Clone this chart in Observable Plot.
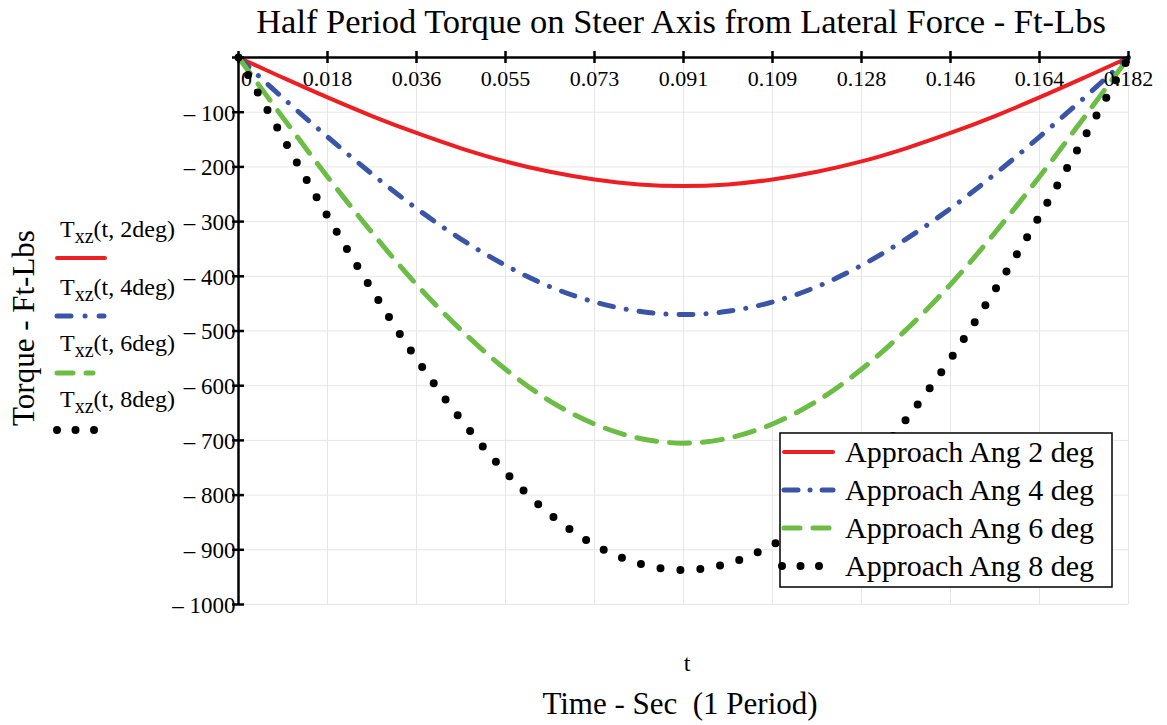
<!DOCTYPE html>
<html>
<head>
<meta charset="utf-8">
<script src="https://cdn.jsdelivr.net/npm/d3@7"></script>
<script src="https://cdn.jsdelivr.net/npm/@observablehq/plot@0.6"></script>
<style>
  body { margin: 0; background: #fff; }
  #wrap { position: relative; width: 1167px; height: 725px; }
  #wrap > svg { position: absolute; left: 0; top: 0; }
</style>
</head>
<body>
<div id="wrap"></div>
<script>
// Time samples over one half period (s)
const tSec = [0, 0.00911, 0.01822, 0.02733, 0.03644, 0.04555, 0.05466, 0.06377, 0.07288, 0.08199,
  0.0911, 0.10021, 0.10932, 0.11843, 0.12754, 0.13665, 0.14576, 0.15487, 0.16398, 0.17309, 0.1822];

// Torque on steer axis (ft-lbs) for each approach angle
const torque2deg = [0, -37, -73, -107, -138, -166, -190, -209, -223, -232, -235, -232, -223, -209, -190, -166, -138, -107, -73, -37, 0];
const torque4deg = [0, -74, -145, -213, -276, -332, -380, -419, -447, -464, -470, -464, -447, -419, -380, -332, -276, -213, -145, -74, 0];
const torque6deg = [0, -110, -218, -320, -415, -498, -570, -628, -670, -696, -705, -696, -670, -628, -570, -498, -415, -320, -218, -110, 0];
const torque8deg = [0, -147, -290, -425, -551, -662, -758, -835, -891, -925, -937, -925, -891, -835, -758, -662, -551, -425, -290, -147, 0];

const seriesNames = ["Approach Ang 2 deg", "Approach Ang 4 deg", "Approach Ang 6 deg", "Approach Ang 8 deg"];
const traceNames = ["2deg", "4deg", "6deg", "8deg"];

// Axis ticks
const xTicks = [0, 0.01822, 0.03644, 0.05466, 0.07288, 0.0911, 0.10932, 0.12754, 0.14576, 0.16398, 0.1822];
const xTickLabels = ["0", "0.018", "0.036", "0.055", "0.073", "0.091", "0.109", "0.128", "0.146", "0.164", "0.182"];
const yTicks = [0, -100, -200, -300, -400, -500, -600, -700, -800, -900, -1000];

const styles = [
  {stroke: "#ee1f23", strokeWidth: 4, dash: null},
  {stroke: "#3a55a6", strokeWidth: 5, dash: "14,13,0.1,13"},
  {stroke: "#6cbd45", strokeWidth: 5, dash: "20,13"},
  {stroke: "#000000", strokeWidth: 8, dash: "0,20"}
];

const allSeries = [torque2deg, torque4deg, torque6deg, torque8deg];
const rows = allSeries.map(vals => tSec.map((t, i) => ({t, v: vals[i]})));

const serif = "Liberation Serif, Times New Roman, serif";

const lineMarks = rows.map((data, k) => Plot.line(data, {
  x: "t", y: "v", curve: "catmull-rom",
  stroke: styles[k].stroke, strokeWidth: styles[k].strokeWidth,
  strokeDasharray: styles[k].dash, strokeLinecap: "round", strokeLinejoin: "round"
}));

const chart = Plot.plot({
  width: 1167,
  height: 725,
  marginLeft: 238,
  marginRight: 39,
  marginTop: 57,
  marginBottom: 121,
  style: {fontFamily: serif, background: "transparent", overflow: "visible"},
  x: {domain: [0, 0.1822], axis: null},
  y: {domain: [-1000, 0], axis: null},
  marks: [
    Plot.gridX(xTicks, {stroke: "#e6e6e6", strokeOpacity: 1, strokeWidth: 1}),
    Plot.gridY(yTicks, {stroke: "#e6e6e6", strokeOpacity: 1, strokeWidth: 1}),
    ...lineMarks,
    // axis lines through the origin
    Plot.ruleX([0], {stroke: "#000", strokeWidth: 2.5}),
    Plot.ruleY([0], {stroke: "#000", strokeWidth: 2.5}),
    // tick marks crossing the axes
    Plot.ruleX(xTicks, {x: d => d, y1: 0, y2: 0, insetTop: -6, insetBottom: -6, stroke: "#000", strokeWidth: 2.5}),
    Plot.ruleY(yTicks, {y: d => d, x1: 0, x2: 0, insetLeft: -6, insetRight: -6, stroke: "#000", strokeWidth: 2.5}),
    // tick labels
    Plot.text(xTicks.slice(1), {x: d => d, y: () => 0, text: (d, i) => xTickLabels[i + 1], dy: 21,
      fontSize: 22, fontFamily: serif, fill: "#000", lineAnchor: "middle"}),
    Plot.text([0], {x: d => d, y: () => 0, text: () => xTickLabels[0], dy: 21, dx: 8,
      fontSize: 22, fontFamily: serif, fill: "#000", lineAnchor: "middle"}),
    Plot.text(yTicks.slice(1), {x: () => 0, y: d => d, text: d => "\u2013 " + Math.abs(d), dx: -3, dy: 1,
      textAnchor: "end", lineAnchor: "middle", fontSize: 23, fontFamily: serif, fill: "#000"})
  ]
});

const wrap = document.getElementById("wrap");
wrap.appendChild(chart);

// Overlay for titles and legends
const ns = "http://www.w3.org/2000/svg";
const overlay = document.createElementNS(ns, "svg");
overlay.setAttribute("width", 1167);
overlay.setAttribute("height", 725);
wrap.appendChild(overlay);

function text(x, y, size, content, anchor, transform) {
  const t = document.createElementNS(ns, "text");
  t.setAttribute("x", x); t.setAttribute("y", y);
  t.setAttribute("font-family", serif);
  t.setAttribute("font-size", size);
  t.setAttribute("fill", "#000");
  if (anchor) t.setAttribute("text-anchor", anchor);
  if (transform) t.setAttribute("transform", transform);
  if (typeof content === "string") t.textContent = content;
  else content(t);
  overlay.appendChild(t);
  return t;
}

function sample(x1, x2, y, st) {
  const l = document.createElementNS(ns, "line");
  l.setAttribute("x1", x1); l.setAttribute("x2", x2);
  l.setAttribute("y1", y); l.setAttribute("y2", y);
  l.setAttribute("stroke", st.stroke);
  l.setAttribute("stroke-width", st.strokeWidth);
  l.setAttribute("stroke-linecap", "round");
  if (st.dash) l.setAttribute("stroke-dasharray", st.dash);
  overlay.appendChild(l);
}

// Titles
text(681, 33, 34.5, "Half Period Torque on Steer Axis from Lateral Force - Ft-Lbs", "middle");
text(687, 671, 24, "t", "middle");
text(680, 714, 31, "Time - Sec\u00a0 (1 Period)", "middle");
text(0, 0, 31, "Torque - Ft-Lbs", "middle", "translate(34,328) rotate(-90)");

// Trace legend beside the y axis
const leftBase = [237, 295, 351, 407];
const leftLineY = [258, 316, 373, 430];
const leftDash = [null, "14,14,0.1,14", "16,13", "0,18.5"];
const leftEnd = [105, 104, 93, 95];
traceNames.forEach((nm, k) => {
  text(60, leftBase[k], 24, t => {
    const a = document.createElementNS(ns, "tspan"); a.textContent = "T";
    const b = document.createElementNS(ns, "tspan"); b.textContent = "xz"; b.setAttribute("dy", 6); b.setAttribute("font-size", 20);
    const c = document.createElementNS(ns, "tspan"); c.textContent = "(t, " + nm + ")"; c.setAttribute("dy", -6);
    t.append(a, b, c);
  });
  sample(57, leftEnd[k], leftLineY[k], {...styles[k], dash: leftDash[k]});
});

// Series legend box
const box = document.createElementNS(ns, "rect");
box.setAttribute("x", 780); box.setAttribute("y", 433);
box.setAttribute("width", 332); box.setAttribute("height", 154);
box.setAttribute("fill", "#fff"); box.setAttribute("stroke", "#000"); box.setAttribute("stroke-width", 1.5);
overlay.appendChild(box);
const boxY = [452, 490, 528, 566];
const boxDash = [null, "14,12,0.1,12", "16,13", "0,18.5"];
seriesNames.forEach((nm, k) => {
  sample(k === 3 ? 782 : 784, 833, boxY[k], {...styles[k], dash: boxDash[k]});
  text(845, boxY[k] + 10, 30, nm);
});
</script>
</body>
</html>
